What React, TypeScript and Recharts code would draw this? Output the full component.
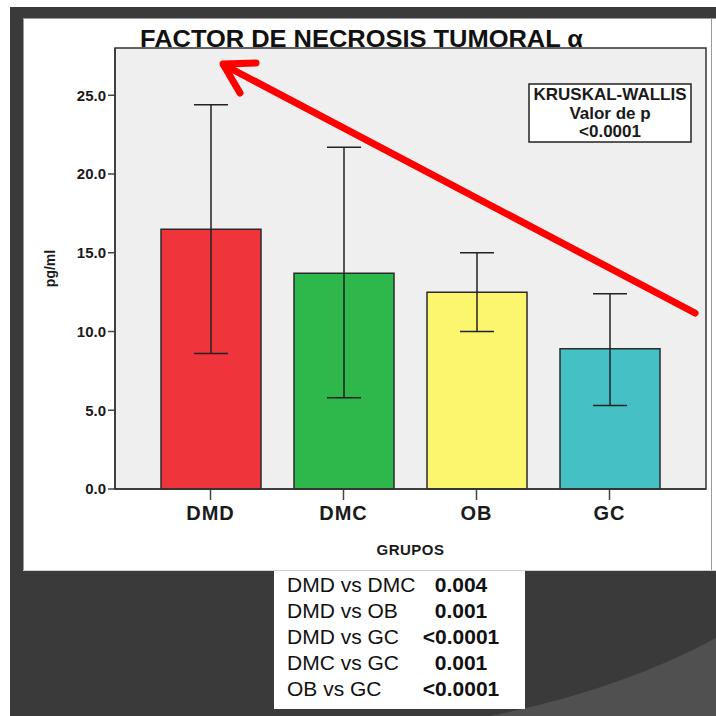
import { BarChart, Bar, XAxis, YAxis, CartesianGrid, ErrorBar, Cell } from "recharts";

const categories = ["DMD", "DMC", "OB", "GC"];
const medians = [16.5, 13.7, 12.5, 8.9];
const lowerBounds = [8.6, 5.8, 10.0, 5.3];
const upperBounds = [24.4, 21.7, 15.0, 12.4];
const barColors = ["#f0343c", "#2eb74a", "#fbf66e", "#45c1c6"];
const yTicks = [0, 5, 10, 15, 20, 25];

const kruskalLines = ["KRUSKAL-WALLIS", "Valor de p", "<0.0001"];
const comparisons = ["DMD vs DMC", "DMD vs OB", "DMD vs GC", "DMC vs GC", "OB vs GC"];
const pValues = ["0.004", "0.001", "<0.0001", "0.001", "<0.0001"];

const data = categories.map((grupo, i) => ({
  grupo,
  value: medians[i],
  err: [medians[i] - lowerBounds[i], upperBounds[i] - medians[i]],
}));

const font = "'Liberation Sans', Arial, sans-serif";

export default function App() {
  return (
    <div
      style={{
        position: "fixed",
        left: 0,
        top: 0,
        width: 716,
        height: 716,
        background: "#ffffff",
        overflow: "hidden",
        fontFamily: font,
      }}
    >
      {/* slide background */}
      <div style={{ position: "absolute", left: 10, top: 7, width: 706, height: 709, background: "#3a3a3a" }} />
      <svg style={{ position: "absolute", left: 0, top: 0 }} width={716} height={716}>
        <path d="M 490 716 Q 620 690 716 638 L 716 716 Z" fill="#505050" />
      </svg>
      {/* white panel */}
      <div
        style={{
          position: "absolute",
          left: 23,
          top: 18,
          width: 693,
          height: 553,
          background: "#ffffff",
          borderLeft: "1px solid #9a9a9a",
          borderTop: "1px solid #9a9a9a",
          boxSizing: "border-box",
        }}
      />
      <div style={{ position: "absolute", left: 711, top: 18, width: 1, height: 553, background: "#9a9a9a" }} />
      <div style={{ position: "absolute", left: 23, top: 570, width: 693, height: 1, background: "#cfcfcf" }} />

      <div style={{ position: "absolute", left: 0, top: 0 }}>
        <BarChart
          width={716}
          height={716}
          data={data}
          margin={{ top: 48, right: 10, bottom: 157, left: 45 }}
          style={{ fontFamily: font }}
        >
          <CartesianGrid fill="#efefef" fillOpacity={1} horizontal={false} vertical={false} />
          <XAxis
            dataKey="grupo"
            height={70}
            padding={{ left: 29, right: 30 }}
            tickSize={11}
            tickMargin={6}
            tickLine={{ stroke: "#444", strokeWidth: 1.5 }}
            axisLine={{ stroke: "#333", strokeWidth: 1.5 }}
            tick={{ fontSize: 20, fontWeight: "bold", fill: "#1a1a1a", letterSpacing: 1 }}
            label={{
              value: "GRUPOS",
              position: "insideBottom",
              offset: 4,
              style: { fontSize: 15, fontWeight: "bold", fill: "#1a1a1a", letterSpacing: 0.5 },
            }}
          />
          <YAxis
            width={70}
            domain={[0, 28]}
            ticks={yTicks}
            tickFormatter={(v) => Number(v).toFixed(1)}
            tickSize={7}
            tickMargin={2}
            tickLine={{ stroke: "#444", strokeWidth: 1.5 }}
            axisLine={{ stroke: "#333", strokeWidth: 1.5 }}
            tick={{ fontSize: 15, fontWeight: "bold", fill: "#1a1a1a" }}
            label={{
              value: "pg/ml",
              angle: -90,
              position: "insideLeft",
              offset: 5,
              style: { fontSize: 14, fontWeight: "bold", fill: "#1a1a1a", textAnchor: "middle" },
            }}
          />
          <Bar dataKey="value" barSize={100} stroke="#2b2b2b" strokeWidth={1.5} isAnimationActive={false}>
            {data.map((d, i) => (
              <Cell key={d.grupo} fill={barColors[i]} />
            ))}
            <ErrorBar dataKey="err" direction="y" width={17} stroke="#222" strokeWidth={1.5} />
          </Bar>
        </BarChart>
      </div>

      {/* annotations */}
      <svg style={{ position: "absolute", left: 0, top: 0, pointerEvents: "none" }} width={716} height={716}>
        <rect x={115} y={48} width={591} height={441} fill="none" stroke="#333" strokeWidth={1.5} />
        <text
          x={140}
          y={46.5}
          fontFamily={font}
          fontSize={23}
          fontWeight="bold"
          fill="#111"
          textLength={443}
          lengthAdjust="spacingAndGlyphs"
        >
          FACTOR DE NECROSIS TUMORAL α
        </text>
        <line x1={695} y1={313} x2={224} y2={65} stroke="#ff0000" strokeWidth={7} strokeLinecap="round" />
        <polyline
          points="256,63 223,64 240,93"
          fill="none"
          stroke="#ff0000"
          strokeWidth={7}
          strokeLinecap="round"
          strokeLinejoin="round"
        />
        <rect x={529} y={84} width={162} height={58} fill="#ffffff" stroke="#222" strokeWidth={1.5} />
        {kruskalLines.map((t, i) => (
          <text
            key={t}
            x={610}
            y={100 + i * 18.5}
            textAnchor="middle"
            fontFamily={font}
            fontSize={17}
            fontWeight="bold"
            fill="#1a1a1a"
          >
            {t}
          </text>
        ))}
        <rect x={274} y={571} width={251} height={138} fill="#ffffff" />
        {comparisons.map((c, i) => (
          <g key={c}>
            <text x={287} y={592 + i * 26} fontFamily={font} fontSize={21} fill="#111">
              {c}
            </text>
            <text
              x={461}
              y={592 + i * 26}
              textAnchor="middle"
              fontFamily={font}
              fontSize={21}
              fontWeight="bold"
              fill="#111"
            >
              {pValues[i]}
            </text>
          </g>
        ))}
      </svg>
    </div>
  );
}
